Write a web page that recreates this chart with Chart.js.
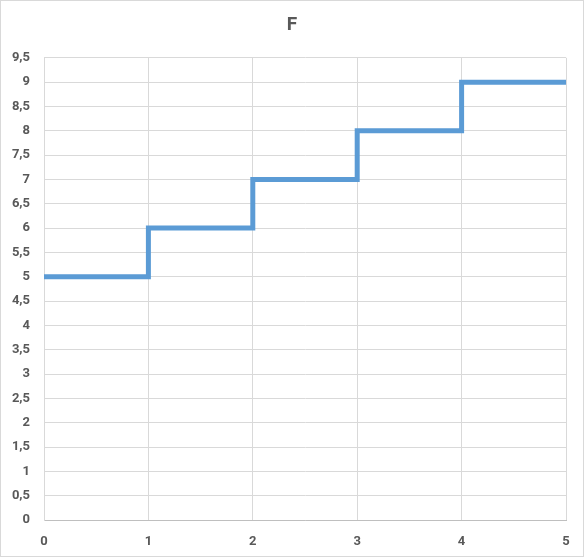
<!DOCTYPE html>
<html>
<head>
<meta charset="utf-8">
<script src="https://cdn.jsdelivr.net/npm/chart.js@4"></script>
<style>
html,body{margin:0;padding:0;background:#fff;}
#wrap{width:584px;height:557px;position:relative;}
</style>
</head>
<body>
<div id="wrap"><canvas id="c" width="584" height="557"></canvas></div>
<script>
const xValues = [0, 1, 2, 3, 4, 5];
const yValues = [5, 6, 7, 8, 9, 9];
const titleText = "F";
const yMin = 0, yMax = 9.5, yStep = 0.5;
const xMin = 0, xMax = 5, xStep = 1;

const points = xValues.map((x, i) => ({ x: x, y: yValues[i] }));
const fmt = v => String(v).replace('.', ',');

const framePlugin = {
  id: 'frame',
  afterLayout(chart) {
    if (chart.titleBlock) {
      chart.titleBlock.left = 0;
      chart.titleBlock.right = chart.width;
      chart.titleBlock.width = chart.width;
    }
  },
  beforeDraw(chart) {
    const ctx = chart.ctx;
    ctx.save();
    ctx.fillStyle = '#ffffff';
    ctx.fillRect(0, 0, chart.width, chart.height);
    ctx.strokeStyle = '#d9d9d9';
    ctx.lineWidth = 1;
    ctx.strokeRect(0.5, 0.5, chart.width - 1, chart.height - 1);
    ctx.restore();
  }
};

const tickFont = { family: 'Roboto', size: 13, weight: 'bold' };

new Chart(document.getElementById('c'), {
  type: 'scatter',
  data: {
    datasets: [{
      data: points,
      showLine: true,
      stepped: 'before',
      borderColor: '#5b9bd5',
      borderWidth: 5,
      pointRadius: 0,
      fill: false
    }]
  },
  options: {
    responsive: false,
    animation: false,
    layout: { padding: { left: 0, right: 18, top: 0, bottom: 0 } },
    plugins: {
      legend: { display: false },
      tooltip: { enabled: false },
      title: {
        display: true,
        text: titleText,
        color: '#595959',
        font: { family: 'Roboto', size: 19, weight: 'bold' },
        padding: { top: 14, bottom: 21 }
      }
    },
    scales: {
      x: {
        type: 'linear',
        min: xMin, max: xMax,
        ticks: {
          stepSize: xStep,
          color: '#595959',
          font: tickFont,
          padding: 14,
          callback: v => fmt(v)
        },
        grid: { color: '#d9d9d9', drawTicks: false },
        border: { color: '#bfbfbf' },
        afterFit(scale) { scale.height = 37; }
      },
      y: {
        type: 'linear',
        min: yMin, max: yMax,
        ticks: {
          stepSize: yStep,
          color: '#595959',
          font: tickFont,
          padding: 14,
          callback: v => fmt(v)
        },
        grid: { color: '#d9d9d9', drawTicks: false },
        border: { color: '#d9d9d9' },
        afterFit(scale) { scale.width = 44; }
      }
    }
  },
  plugins: [framePlugin]
});
</script>
</body>
</html>
